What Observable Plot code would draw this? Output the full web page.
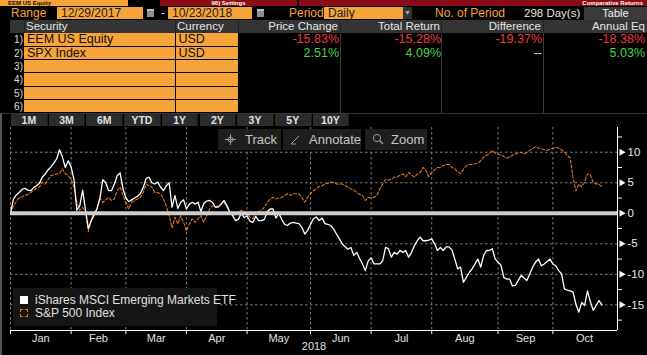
<!DOCTYPE html>
<html><head><meta charset="utf-8">
<script src="https://cdn.jsdelivr.net/npm/d3@7"></script>
<script src="https://cdn.jsdelivr.net/npm/@observablehq/plot@0.6"></script>
<style>
html,body{margin:0;padding:0;background:#000;}
body{width:647px;height:355px;overflow:hidden;position:relative;font-family:"Liberation Sans",Arial,sans-serif;color:#ddd;}
.a{position:absolute;white-space:nowrap;}
.or{background:#f6a33a;}
.lbl{color:#f3a23a;font-size:12px;line-height:14px;top:6px;}
.box{top:7px;height:12px;line-height:12px;font-size:12px;color:#222;padding-left:4px;box-sizing:border-box;}
.ht{top:20px;line-height:13px;font-size:11.5px;color:#e4e4e4;}
.cell{height:12.4px;line-height:12.6px;color:#111;padding-left:3px;box-sizing:border-box;font-family:"Liberation Sans Narrow","Liberation Sans",Arial,sans-serif;font-size:12.5px;}
.num{font-size:10px;color:#ddd;width:23px;text-align:right;line-height:13px;}
.val{font-size:12.5px;line-height:13px;text-align:right;font-family:"Liberation Sans Narrow","Liberation Sans",Arial,sans-serif;}
.red{color:#f03a40}.grn{color:#47d547}
.btn{top:113.5px;height:12.5px;width:36.7px;background:#2c2c2c;color:#e0e0e0;font-size:10.5px;font-weight:bold;line-height:12.5px;text-align:center;border-right:1px solid #1a1a1a;box-sizing:border-box;}
.tool{top:129px;height:21px;background:#1e1e1e;color:#c4c4c4;font-size:13px;line-height:21px;}
.sep{width:1px;background:#3a3a3a;}
.strip{top:0;height:6px;font-size:6px;line-height:6px;font-weight:bold;}
</style></head><body>
<div id="page"></div>
<script>
// ---------- data ----------
const securities = ["EEM US Equity", "SPX Index"];
const currencies = ["USD", "USD"];
const priceChange = ["-15.83%", "2.51%"];
const totalReturn = ["-15.28%", "4.09%"];
const difference = ["-19.37%", "--"];
const annualEq = ["-18.38%", "5.03%"];
const rangeButtons = ["1M", "3M", "6M", "YTD", "1Y", "2Y", "3Y", "5Y", "10Y"];
const seriesNames = ["iShares MSCI Emerging Markets ETF", "S&P 500 Index"];

const months = ["Jan","Feb","Mar","Apr","May","Jun","Jul","Aug","Sep","Oct"];
// trading-day index (0 = 12/29/2017) of month boundaries and month label centres
const monthStart = [0, 21, 40, 61, 82, 104, 125, 146, 169, 188];
const monthMid = [10.5, 30.5, 50.5, 71.5, 93, 114.5, 135.5, 157.5, 178.5, 199];
const yMajor = [-15, -10, -5, 0, 5, 10];
const yMinor = [-17.5, -12.5, -7.5, -2.5, 2.5, 7.5, 12.5];
const xMax = 210.4;
const yDomain = [-19.2, 14.05];

// comparative return (%) per trading day
const eem = [
 0, 2.3, 3.0, 3.4, 3.9, 4.1, 3.8, 3.7, 4.2, 4.5,
 4.9, 5.9, 6.4, 7.1, 7.6, 8.2, 8.9, 10.4, 9.2, 7.5,
 8.6, 7.6, 5.5, 0.5, 1.2, 3.8, 0.5, -2.5, -1.2, -0.3,
 0.8, 2.5, 5.5, 5.0, 3.7, 3.7, 4.8, 6.2, 6.6, 4.0,
 2.5, 1.9, 2.2, 2.5, 2.8, 3.2, 4.2, 5.7, 5.9, 5.0,
 4.8, 5.1, 4.3, 3.7, 4.5, 5.0, 1.0, 2.9, 0.8, 1.8,
 2.2, 0.7, 1.5, 1.8, 1.5, 1.8, 0.3, 1.6, 2.0, 2.1,
 1.8, 1.0, 1.0, 1.5, 2.1, 1.3, 0.2, -0.4, -1.2, -1.0,
 0.0, -0.7, -0.4, -1.3, -1.5, -0.5, -1.2, -1.2, -1.0, 0.3,
 0.7, 0.7, -0.8, 0.0, -1.0, -1.8, -2.0, -1.6, -1.5, -1.6,
 -1.7, -2.3, -3.4, -2.8, -1.8, -0.9, -0.6, -1.2, -0.8, -1.7,
 -1.8, -2.0, -2.6, -3.4, -4.2, -5.0, -5.5, -5.9, -5.6, -6.9,
 -6.4, -7.4, -8.3, -9.4, -7.8, -7.3, -8.3, -8.3, -8.3, -7.8,
 -5.6, -5.8, -7.2, -6.4, -6.7, -6.1, -6.4, -6.1, -7.2, -6.4,
 -5.3, -4.5, -3.9, -4.5, -4.5, -4.4, -4.2, -5.0, -6.1, -5.6,
 -6.1, -5.5, -5.5, -6.0, -7.5, -9.1, -8.8, -11.3, -10.5, -9.7,
 -9.1, -8.3, -7.5, -8.8, -6.9, -6.1, -6.1, -5.8, -7.5, -8.0,
 -8.5, -10.5, -10.8, -10.8, -11.9, -11.8, -11.0, -10.2, -10.6, -11.0,
 -9.9, -8.8, -8.0, -7.5, -8.6, -8.3, -7.9, -7.5, -8.3, -8.6,
 -9.4, -9.9, -12.4, -12.6, -12.7, -12.9, -14.9, -16.2, -14.6, -15.1,
 -12.7, -14.5, -15.9, -15.1, -14.3, -15.0
];
const spx = [
 0, 1.2, 1.9, 2.6, 2.7, 2.9, 3.1, 3.4, 3.7, 4.1,
 4.3, 5.1, 4.8, 5.5, 6.2, 6.3, 6.45, 6.5, 7.3, 6.45,
 6.2, 5.6, 4.3, 1.8, 0.5, 1.0, 0.2, -3.0, -0.9, 0.2,
 0.7, 2.4, 1.8, 2.2, 2.6, 2.1, 2.35, 3.7, 4.3, 2.9,
 1.8, 0.7, 1.8, 2.1, 2.35, 2.6, 3.4, 4.8, 4.5, 4.3,
 3.4, 3.4, 3.2, 2.35, 1.25, -0.4, -2.4, -0.65, -1.75, -0.4,
 -1.5, -2.9, -1.75, -0.9, -1.5, -0.9, -0.4, -1.5, -0.4, 0.7,
 1.25, 1.0, 1.25, 1.5, 1.8, 1.0, 0.2, -0.4, -0.1, 0.2,
 0.45, 0.2, -0.1, -0.65, -0.9, 0.2, 0.3, 0.45, 1.0, 1.8,
 2.35, 2.6, 2.35, 2.5, 2.6, 2.9, 3.2, 2.9, 3.2, 3.2,
 3.2, 2.6, 1.8, 2.6, 3.2, 3.7, 4.0, 4.4, 4.5, 4.8,
 4.9, 5.1, 5.0, 4.8, 4.8, 4.8, 4.5, 4.3, 4.0, 3.8,
 3.45, 3.1, 2.9, 2.1, 2.6, 2.5, 2.6, 2.9, 4.0, 4.8,
 5.5, 5.4, 5.6, 5.9, 6.0, 6.2, 6.45, 6.0, 6.7, 6.3,
 5.9, 6.4, 6.7, 7.5, 7.0, 6.0, 6.7, 7.1, 7.5, 7.5,
 7.8, 8.0, 8.0, 7.5, 7.3, 6.8, 6.5, 7.2, 7.8, 8.0,
 8.0, 8.1, 8.2, 8.6, 9.2, 9.5, 9.8, 10.3, 9.8, 9.7,
 9.5, 9.3, 9.0, 9.2, 9.5, 9.7, 9.9, 10.0, 9.7, 10.0,
 10.3, 10.6, 10.9, 10.7, 10.6, 10.4, 10.3, 10.5, 10.6, 10.8,
 10.7, 10.4, 10.0, 9.5, 9.1, 5.8, 3.7, 4.8, 4.3, 5.1,
 6.45, 6.3, 5.0, 4.8, 4.8, 4.3
];

// ---------- terminal header (HTML) ----------
const page = document.getElementById("page");
function el(cls, style, html) {
  const d = document.createElement("div");
  d.className = "a " + cls;
  d.setAttribute("style", style);
  if (html != null) d.innerHTML = html;
  page.appendChild(d);
  return d;
}
// top strip (only its lower edge is visible in the terminal)
el("or strip", "left:0;width:128px;color:#111;padding-left:8px;box-sizing:border-box;", securities[0]);
el("strip", "left:160px;width:137px;background:#8a0c16;color:#fff;text-align:center;", "96) Settings");
el("strip", "left:299px;width:348px;background:#8a0c16;color:#fff;text-align:right;padding-right:4px;box-sizing:border-box;", "Comparative Returns");

// range row
el("lbl", "left:11px;", "Range");
el("or box", "left:57px;width:86px;", "12/29/2017");
el("", "left:147px;top:9px;width:7px;height:8px;background:#8d8d8d;border-top:2px solid #bbb;box-sizing:border-box;");
el("", "left:161px;top:6px;font-size:12px;line-height:14px;color:#ccc;", "-");
el("or box", "left:168px;width:84px;", "10/23/2018");
el("", "left:257px;top:9px;width:7px;height:8px;background:#8d8d8d;border-top:2px solid #bbb;box-sizing:border-box;");
el("lbl", "left:289px;", "Period");
el("or box", "left:324px;width:79px;", "Daily");
el("", "left:403px;top:7px;width:9px;height:12px;background:#333;color:#aaa;font-size:7px;line-height:12px;text-align:center;", "&#9660;");
el("lbl", "left:435px;", "No. of Period");
el("", "left:524px;top:6px;font-size:11.5px;line-height:14px;color:#e6e6e6;", "298 Day(s)");
el("", "left:584px;top:7px;width:63px;height:13px;background:#3b3b3b;color:#f0f0f0;font-size:11px;line-height:13px;text-align:center;", "Table");

// table header
el("", "left:10px;top:20px;width:637px;height:13px;background:#343434;");
[24, 175, 238, 340, 441, 543].forEach(x => el("", `left:${x}px;top:20px;width:1px;height:13px;background:#222;`));
el("ht", "left:26px;", "Security");
el("ht", "left:177px;", "Currency");
el("ht", "right:309px;", "Price Change");
el("ht", "right:207px;", "Total Return");
el("ht", "right:106px;", "Difference");
el("ht", "right:2px;", "Annual Eq");

// table rows
const rowTop = [33.3, 46.7, 60, 73.3, 86.7, 100];
[340, 441, 543].forEach(x => el("sep", `left:${x}px;top:33px;height:80px;`));
rowTop.forEach((t, i) => {
  el("num", `left:0;top:${t}px;`, (i + 1) + ")");
  el("or cell", `left:24px;top:${t}px;width:150.5px;`, securities[i] || "");
  el("or cell", `left:175.5px;top:${t}px;width:62.5px;`, currencies[i] || "");
  if (i < securities.length) {
    const cls = v => v === "--" ? "" : (v.startsWith("-") ? "red" : "grn");
    el("val " + cls(priceChange[i]), `right:308px;top:${t}px;`, priceChange[i]);
    el("val " + cls(totalReturn[i]), `right:206px;top:${t}px;`, totalReturn[i]);
    el("val " + cls(difference[i]), `right:105px;top:${t}px;` + (difference[i] === "--" ? "color:#ddd;" : ""), difference[i]);
    el("val " + cls(annualEq[i]), `right:2px;top:${t}px;`, annualEq[i]);
  }
});
el("", "left:0;top:113px;width:647px;height:1px;background:#333;");

// range buttons
rangeButtons.forEach((b, i) => el("btn", `left:${11 + i * 37.7}px;`, b));

// chart container
const chartBox = el("", "left:0;top:127px;width:647px;height:228px;");

// ---------- chart (Plot) ----------
const data = [
  ...spx.map((v, i) => ({day: i, value: v, series: seriesNames[1]})),
  ...eem.map((v, i) => ({day: i, value: v, series: seriesNames[0]}))
];
const font = '"Liberation Sans", Arial, sans-serif';
const chart = Plot.plot({
  width: 647, height: 228,
  marginLeft: 10, marginRight: 30, marginTop: 0, marginBottom: 25,
  style: {background: "#000", color: "#e0e0e0", fontFamily: font, fontSize: "11px", overflow: "visible"},
  x: {domain: [0, xMax], axis: null},
  y: {domain: yDomain, axis: null},
  marks: [
    Plot.ruleX(monthStart, {stroke: "#7c7c7c", strokeDasharray: "2.5,2.5"}),
    Plot.ruleY(yMajor.filter(d => d !== 0), {stroke: "#7c7c7c", strokeDasharray: "2.5,2.5"}),
    Plot.line(data.filter(d => d.series === seriesNames[1]), {x: "day", y: "value", stroke: "#e0741e", strokeWidth: 1.1, strokeDasharray: "3,2"}),
    Plot.line(data.filter(d => d.series === seriesNames[0]), {x: "day", y: "value", stroke: "#ffffff", strokeWidth: 1.3}),
    Plot.ruleY([0], {stroke: "#cdcdcd", strokeWidth: 4}),
    Plot.ruleX([xMax], {stroke: "#ffffff"}),
    Plot.ruleY([yDomain[0]], {stroke: "#ffffff"}),
    Plot.axisY(yMinor, {anchor: "right", tickSize: 4, tickFormat: () => "", stroke: "#ffffff", label: null}),
    Plot.axisY(yMajor, {anchor: "right", tickSize: 0, tickPadding: 10, tickFormat: d => String(d), fontSize: 11.5, fill: "#e8e8e8", label: null}),
    Plot.dot(yMajor, {y: d => d, frameAnchor: "right", dx: 4, symbol: "triangle", rotate: 90, r: 2.6, fill: "#ffffff", stroke: "none"}),
    Plot.axisX(monthStart, {anchor: "bottom", tickSize: 4, tickFormat: () => "", stroke: "#ffffff", label: null}),
    Plot.axisX(monthMid, {anchor: "bottom", tickSize: 0, tickPadding: 4, tickFormat: d => months[monthMid.indexOf(d)], fontSize: 11, fill: "#e0e0e0", label: null}),
    Plot.text(["2018"], {frameAnchor: "bottom", dy: 19, fontSize: 11, fill: "#e0e0e0"})
  ]
});
chart.style.position = "absolute";
chart.style.left = "0px";
chart.style.top = "0px";
chartBox.appendChild(chart);

// left border
el("", "left:0;top:113px;width:1.5px;height:242px;background:#555;");

// tool buttons
const cross = '<svg width="11" height="11" style="vertical-align:-1px"><circle cx="5.5" cy="5.5" r="2.5" fill="none" stroke="#999"/><path d="M5.5 0V11M0 5.5H11" stroke="#999"/></svg>';
const pen = '<svg width="11" height="11" style="vertical-align:-1px"><path d="M1 10L9 2M1 10H6" stroke="#999" fill="none"/></svg>';
const mag = '<svg width="12" height="12" style="vertical-align:-1px"><circle cx="5" cy="5" r="3.6" fill="none" stroke="#999"/><path d="M7.8 7.8L11 11" stroke="#999" stroke-width="1.5"/></svg>';
el("tool", "left:218px;width:63px;", `<span style="margin-left:7px">${cross}</span><span style="margin-left:9px">Track</span>`);
el("tool", "left:283px;width:78px;", `<span style="margin-left:7px">${pen}</span><span style="margin-left:8px">Annotate</span>`);
el("tool", "left:365px;width:62px;", `<span style="margin-left:7px">${mag}</span><span style="margin-left:7px">Zoom</span>`);

// legend
el("", "left:13px;top:288px;width:204px;height:38px;background:#151515;");
el("", "left:20px;top:296px;width:8px;height:8px;background:#fff;");
el("", "left:35px;top:293px;font-size:12px;line-height:14px;color:#e0e0e0;", seriesNames[0]);
el("", "left:20px;top:309px;width:8px;height:8px;border:1px dashed #e0741e;box-sizing:border-box;");
el("", "left:35px;top:306px;font-size:12px;line-height:14px;color:#e0e0e0;", seriesNames[1]);
</script>
</body></html>
